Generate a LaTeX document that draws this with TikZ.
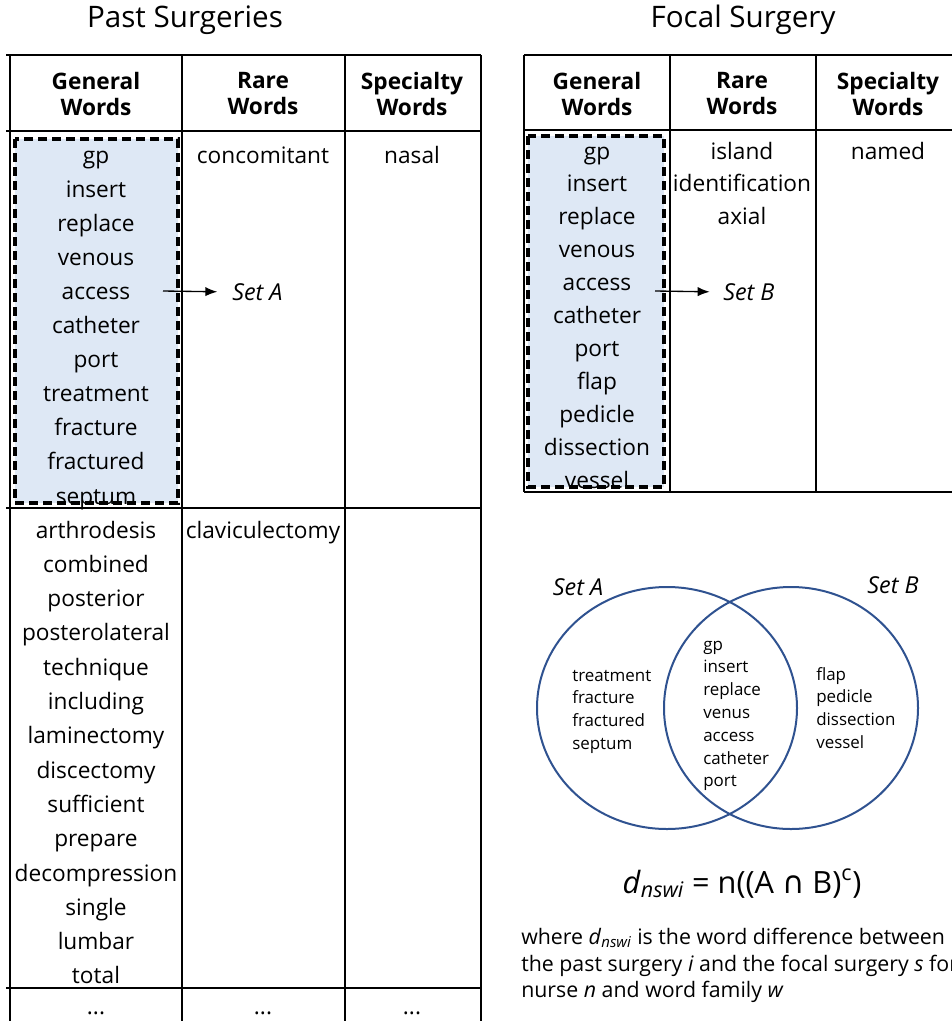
\documentclass[tikz,border=0pt]{standalone}
\usepackage{fontspec}
\setmainfont{Open Sans}
\newfontfamily\symfont{DejaVu Sans}
\usetikzlibrary{arrows.meta}
\definecolor{boxblue}{HTML}{DEE8F5}
\definecolor{vennblue}{HTML}{2F5290}

\begin{document}
\begin{tikzpicture}[x=0.75pt, y=-0.75pt,
    word/.style={font=\fontsize{17}{20}\selectfont, inner sep=0pt, anchor=base},
    head/.style={font=\fontsize{17}{19.5}\selectfont\bfseries, align=center, inner sep=0pt},
    title/.style={font=\fontsize{22.2}{26}\selectfont, inner sep=0pt},
    grid/.style={line width=1.5pt},
    setbox/.style={fill=boxblue, draw=black, line width=2.3pt, dash pattern=on 7pt off 3.5pt},
    setlabel/.style={font=\fontsize{17.5}{20}\selectfont\itshape, inner sep=0pt, anchor=west},
    vennword/.style={font=\fontsize{12.7}{15}\selectfont, inner sep=0pt, anchor=base west},
    note/.style={font=\fontsize{16}{20}\selectfont, inner sep=0pt, anchor=base west},
    circ/.style={draw=vennblue, line width=1.5pt}]
    \useasboundingbox (0,0) rectangle (951,1021);
    % titles
    \node[title] (pastT) at (185,20) {Past Surgeries};
    \node[title] (focalT) at (743,20) {Focal Surgery};

    % past surgeries table
    \draw[setbox] (15,139) rectangle (178,503);
    \draw[grid] (6,55) -- (481,55);
    \draw[grid] (6,131) -- (481,131);
    \draw[grid] (6,508) -- (481,508);
    \draw[grid] (6,988) -- (481,988);
    \foreach \x in {10,182,345,481}
        \draw[grid] (\x,55) -- (\x,1025);
    \node[head] (pastH1) at (96,94) {General\\Words};
    \node[head] (pastH2) at (263,94) {Rare\\Words};
    \node[head] (pastH3) at (412,94) {Specialty\\Words};
    \foreach \w [count=\i from 0] in {gp,insert,replace,venous,access,catheter,port,treatment,fracture,fractured,septum}
        \node[word] (pastG\i) at (96,{163+34.1*\i}) {\w};
    \foreach \w [count=\i from 0] in {arthrodesis,combined,posterior,posterolateral,technique,including,laminectomy,discectomy,sufficient,prepare,decompression,single,lumbar,total}
        \node[word] (pastM\i) at (96,{538+34.3*\i}) {\w};
    \node[word] (pastR1) at (263,163) {concomitant};
    \node[word] (pastR2) at (263,538) {claviculectomy};
    \node[word] (pastS1) at (412,163) {nasal};
    \node[word] (dots1) at (96,1014) {...};
    \node[word] (dots2) at (263,1014) {...};
    \node[word] (dots3) at (412,1014) {...};
    % arrow to set A
    \coordinate (arrA) at (163,291);
    \node[setlabel] (setA) at (232,292) {Set A};
    \draw[-{Latex[length=9pt,width=7pt]}, line width=1pt, shorten >=11pt] (arrA) -- (setA.west);

    % focal surgery table
    \draw[setbox] (528,136) rectangle (664,487);
    \draw[grid] (524,55) -- (960,55);
    \draw[grid] (524,130) -- (960,130);
    \draw[grid] (524,492) -- (960,492);
    \foreach \x in {524,670,816}
        \draw[grid] (\x,55) -- (\x,492);
    \node[head] (focalH1) at (597,94) {General\\Words};
    \node[head] (focalH2) at (742,94) {Rare\\Words};
    \node[head] (focalH3) at (888,94) {Specialty\\Words};
    \foreach \w [count=\i from 0] in {gp,insert,replace,venous,access,catheter,port,flap,pedicle,dissection,vessel}
        \node[word] (focalG\i) at (597,{159+32.9*\i}) {\w};
    \foreach \w [count=\i from 0] in {island,identification,axial}
        \node[word] (focalR\i) at (742,{159+32.9*\i}) {\w};
    \node[word] (focalS1) at (888,159) {named};
    % arrow to set B
    \coordinate (arrB) at (655,291);
    \node[setlabel] (setB) at (723,292) {Set B};
    \draw[-{Latex[length=9pt,width=7pt]}, line width=1pt, shorten >=10pt] (arrB) -- (setB.west);

    % venn diagram
    \draw[circ] (667,708) ellipse [x radius=97.5pt, y radius=90.75pt];
    \draw[circ] (791,708) ellipse [x radius=95.25pt, y radius=90.75pt];
    \node[setlabel, anchor=center] (vennA) at (578,587) {Set A};
    \node[setlabel, anchor=center] (vennB) at (893,585) {Set B};
    \foreach \w [count=\i from 0] in {treatment,fracture,fractured,septum}
        \node[vennword] (onlyA\i) at (572,{681+22.7*\i}) {\w};
    \foreach \w [count=\i from 0] in {gp,insert,replace,venus,access,catheter,port}
        \node[vennword] (both\i) at (703,{650+22.8*\i}) {\w};
    \foreach \w [count=\i from 0] in {flap,pedicle,dissection,vessel}
        \node[vennword] (onlyB\i) at (816,{680+22.7*\i}) {\w};

    % formula and note
    \node[font=\fontsize{23}{27}\selectfont, inner sep=0pt, anchor=base] (diff) at (742,893)
        {\textit{d}\textsubscript{\textit{nswi}} = n((A {\symfont ∩} B)\textsuperscript{c})};
    \node[note] (note1) at (521,944) {where \textit{d}\textsubscript{\textit{nswi}} is the word difference between};
    \node[note] (note2) at (521,971) {the past surgery \textit{i} and the focal surgery \textit{s} for};
    \node[note] (note3) at (521,997) {nurse \textit{n} and word family \textit{w}};
\end{tikzpicture}
\end{document}
